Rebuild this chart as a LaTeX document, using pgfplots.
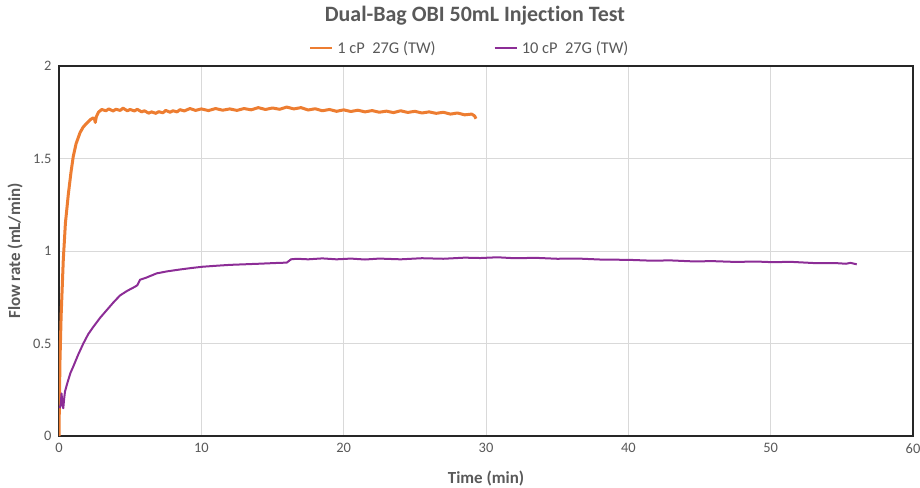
\documentclass[border=0pt]{standalone}
\usepackage{fontspec}
\setmainfont[Ligatures=NoCommon]{Carlito}
\usepackage{pgfplots}
\pgfplotsset{compat=1.18}
\definecolor{cporange}{RGB}{237,125,49}
\definecolor{cppurple}{RGB}{140,45,150}
\definecolor{txtgray}{RGB}{89,89,89}
\begin{document}
\begin{tikzpicture}
\begin{axis}[
    scale only axis,
    width=854bp, height=370bp,
    xmin=0, xmax=60, ymin=0, ymax=2,
    xtick={0,10,...,60},
    ytick={0,0.5,1,1.5,2},
    yticklabels={0,0.5,1,1.5,2},
    grid=major,
    major grid style={draw=black!15, line width=0.8bp},
    axis line style={draw=black!85, line width=1.3bp},
    major tick length=0pt,
    tick label style={font=\fontsize{14.5}{16}\selectfont, text=txtgray},
    /pgf/number format/assume math mode=true,
    xticklabel style={yshift=-4bp},
    yticklabel style={xshift=-4bp},
    title={Dual-Bag OBI 50mL Injection Test},
    title style={font=\fontsize{22}{25}\selectfont\bfseries, text=txtgray,
        at={(0.487,1.12)}, anchor=center},
    xlabel={Time (min)},
    ylabel={Flow rate (mL/min)},
    label style={font=\fontsize{17}{19}\selectfont\bfseries, text=txtgray},
    xlabel style={at={(0.5,-0.114)}, anchor=center},
    ylabel style={at={(-0.0515,0.5)}, anchor=center},
    legend style={at={(0.481,1.049)}, anchor=center, draw=none, fill=none,
        font=\fontsize{16.5}{18}\selectfont, text=txtgray,
        legend columns=2, column sep=2bp,
        /tikz/every even column/.append style={column sep=56bp}},
    legend image code/.code={\draw[#1, line width=2.2bp] (0bp,0bp) -- (22bp,0bp);},
]
\addplot[cporange, line width=3bp, line join=round] coordinates {
(0,0.00) (0.03,0.20) (0.07,0.41) (0.15,0.65) (0.3,0.95) (0.45,1.15)
(0.66,1.31) (0.85,1.43) (1.0,1.51) (1.2,1.58) (1.48,1.64) (1.7,1.67)
(1.94,1.69) (2.2,1.71) (2.41,1.72) (2.5,1.71) (2.55,1.695) (2.62,1.725)
(2.77,1.75) (3.0,1.765) (3.3,1.758) (3.5,1.768) (3.8,1.757) (4.0,1.766)
(4.3,1.76) (4.5,1.772) (4.8,1.758) (5.0,1.765) (5.3,1.757) (5.5,1.766)
(5.8,1.752) (6.0,1.758) (6.3,1.745) (6.5,1.752) (6.8,1.744) (7.0,1.753)
(7.3,1.747) (7.5,1.76) (7.8,1.75) (8.0,1.758) (8.3,1.752) (8.5,1.764)
(8.8,1.757) (9.2,1.77) (9.6,1.76) (10,1.768) (10.5,1.759) (11,1.77)
(11.5,1.761) (12,1.768) (12.5,1.76) (13,1.77) (13.5,1.763) (14,1.775)
(14.5,1.765) (15,1.773) (15.5,1.766) (16,1.778) (16.5,1.768) (17,1.775)
(17.5,1.762) (18,1.769) (18.5,1.758) (19,1.765) (19.5,1.755) (20,1.763)
(20.5,1.754) (21,1.761) (21.5,1.752) (22,1.759) (22.5,1.75) (23,1.756)
(23.5,1.748) (24,1.758) (24.5,1.749) (25,1.755) (25.5,1.746) (26,1.752)
(26.5,1.744) (27,1.75) (27.5,1.74) (28,1.746) (28.5,1.736) (29.0,1.74)
(29.2,1.73) (29.3,1.715)
};
\addlegendentry{1 cP\ \ 27G (TW)}
\addplot[cppurple, line width=2bp, line join=round] coordinates {
(0.05,0.15) (0.12,0.17) (0.18,0.23) (0.24,0.17) (0.3,0.15) (0.36,0.20)
(0.42,0.24) (0.6,0.29) (0.8,0.34) (1.0,0.375) (1.35,0.44) (1.71,0.50)
(2.05,0.55) (2.41,0.59) (2.9,0.64) (3.35,0.68) (3.8,0.72) (4.29,0.76)
(4.8,0.785) (5.34,0.807) (5.5,0.815) (5.7,0.845) (6.1,0.855) (6.86,0.879)
(7.6,0.89) (8.5,0.90) (9.3,0.908) (10.1,0.915) (11,0.92) (12,0.925)
(13,0.928) (14,0.931) (14.6,0.933) (15.5,0.936) (16.0,0.937) (16.3,0.955)
(16.7,0.958) (17.5,0.955) (18.5,0.96) (19.5,0.955) (20.5,0.959) (21.5,0.954)
(22.5,0.959) (24,0.955) (25.5,0.961) (27,0.958) (28.5,0.964) (29.6,0.962)
(30.8,0.966) (32,0.961) (33.5,0.963) (35,0.958) (36.5,0.959) (38,0.954)
(40.1,0.952) (41.5,0.948) (43,0.949) (44.5,0.944) (46,0.945) (47.5,0.941)
(49,0.943) (50,0.94) (51.5,0.941) (53,0.935) (54.5,0.935) (55.3,0.931)
(55.6,0.936) (56.05,0.928)
};
\addlegendentry{10 cP\ \ 27G (TW)}
\end{axis}
\pgfresetboundingbox
\path ([shift={(-59bp,-52bp)}]current axis.south west) rectangle ([shift={(7bp,66bp)}]current axis.north east);
\end{tikzpicture}
\end{document}
